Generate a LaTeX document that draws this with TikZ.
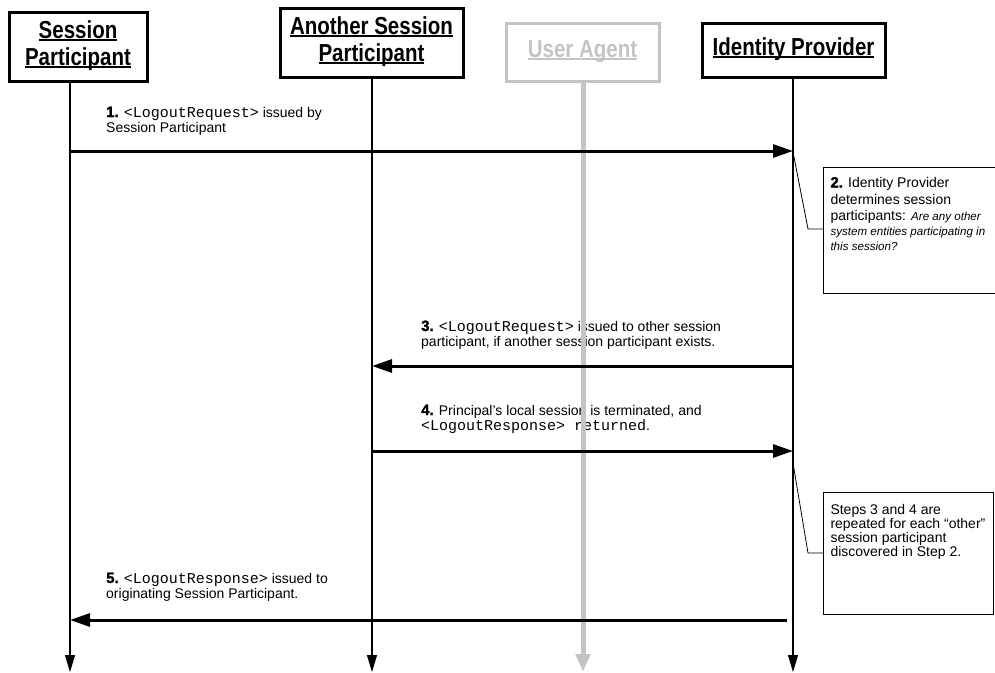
\documentclass[tikz,border=0pt]{standalone}
\usepackage{fontspec}
\usepackage{graphicx}
\setmainfont{Liberation Sans}
\setmonofont{Liberation Mono}
\newfontfamily\heavyfont{Liberation Sans Bold}[FakeBold=1.6]
\usetikzlibrary{arrows.meta}
\definecolor{uagray}{HTML}{C4C4C4}
\newcommand\lblfont{\fontsize{14}{15.5}\selectfont}
\newcommand\cd[1]{{\ttfamily\fontsize{15}{15}\selectfont #1}}
\newcommand\sn[1]{{\heavyfont\fontsize{15}{15}\selectfont #1}}
\newcommand\hdul[1]{\setbox0\hbox{#1}\rlap{\rule[-2.2pt]{\wd0}{1.3pt}}\box0}
\newcommand\hdtext[1]{\scalebox{1}[1.2]{\fontsize{20.5}{22.5}\selectfont\bfseries\begin{tabular}{@{}c@{}}#1\end{tabular}}}
\newcommand\itl{\itshape\fontsize{11.6}{14}\selectfont}
\begin{document}
\begin{tikzpicture}[x=1pt,y=-1pt,
  hdr/.style={draw, line width=3pt, inner sep=0pt, align=center},
  life/.style={line width=1.2pt, -{Triangle[length=17pt,width=10pt]}},
  msg/.style={line width=3pt, -{Triangle[length=20pt,width=13pt]}},
  lbl/.style={anchor=base west, inner sep=0pt, font=\lblfont},
  notebox/.style={draw, line width=1pt, fill=white, anchor=north west, inner xsep=7pt, inner ysep=0pt},
  link/.style={line width=0.8pt}]
\useasboundingbox (0,0) rectangle (995,672);

% header boxes
\node[hdr, minimum width=138pt, minimum height=69pt] (sp) at (78,46.5) {\hdtext{\hdul{Session}\\\hdul{Participant}}};
\node[hdr, minimum width=183pt, minimum height=69pt] (asp) at (371.5,42.5) {\hdtext{\hdul{Another Session}\\\hdul{Participant}}};
\node[hdr, draw=uagray, text=uagray, minimum width=153pt, minimum height=58pt] (ua) at (582.5,52) {\hdtext{\hdul{User Agent}}};
\node[hdr, minimum width=183pt, minimum height=54pt] (idp) at (793.5,50) {\hdtext{\hdul{Identity Provider}}};

% lifeline ends
\coordinate (spE) at (70,672);
\coordinate (aspE) at (372,672);
\coordinate (uaE) at (583,672);
\coordinate (idpE) at (793,672);

% labels
\node[lbl] (l1) at (106,117) {\parbox[t]{400pt}{\raggedright\lblfont\sn{1.} \cd{<LogoutRequest>} issued by\\Session Participant}};
\node[lbl] (l3) at (421,331) {\parbox[t]{400pt}{\raggedright\lblfont\sn{3.} \cd{<LogoutRequest>} issued to other session\\participant, if another session participant exists.}};
\node[lbl] (l4) at (421,415) {\parbox[t]{400pt}{\raggedright\lblfont\sn{4.} Principal's local session is terminated, and\\\cd{<LogoutResponse> returned}.}};
\node[lbl] (l5) at (106,583) {\parbox[t]{400pt}{\raggedright\lblfont\sn{5.} \cd{<LogoutResponse>} issued to\\originating Session Participant.}};

% lifelines
\draw[life] (sp.south -| spE) -- (spE);
\draw[life] (asp.south -| aspE) -- (aspE);
\draw[line width=5pt, draw=uagray, -{Triangle[length=18pt,width=14pt]}] (ua.south -| uaE) -- (uaE);
\draw[life] (idp.south -| idpE) -- (idpE);

% messages
\coordinate (m1s) at (70,151); \coordinate (m1e) at (793,151);
\coordinate (m3s) at (793,366); \coordinate (m3e) at (372,366);
\coordinate (m4s) at (372,451); \coordinate (m4e) at (793,451);
\coordinate (m5s) at (787,620); \coordinate (m5e) at (70,620);
\draw[msg] (m1s) -- (m1e);
\draw[msg] (m3s) -- (m3e);
\draw[msg] (m4s) -- (m4e);
\draw[msg] (m5s) -- (m5e);

% notes
\node[notebox] (n1) at (823,167) {\parbox[t][126pt][t]{158pt}{\fontsize{14}{15}\selectfont
\mbox{\rule{0pt}{20pt}\sn{2.} Identity Provider}\\[1.5pt]
\mbox{determines session}\\[1.5pt]
\mbox{participants: {\itl Are any other}}\\
\mbox{\itl system entities participating in}\\
\mbox{\itl this session?}}};
\node[notebox] (n2) at (823,492) {\parbox[t][122pt][t]{156pt}{\fontsize{14}{14}\selectfont
\mbox{\rule{0pt}{22pt}Steps 3 and 4 are}\\
\mbox{repeated for each “other”}\\
\mbox{session participant}\\
\mbox{discovered in Step 2.}}};

\coordinate (n1a) at (793,152);
\coordinate (n1b) at (808,229);
\coordinate (n2a) at (793,463);
\coordinate (n2b) at (808,553);
\draw[link] (n1a) -- (n1b) -- (n1.west |- n1b);
\draw[link] (n2a) -- (n2b) -- (n2.west |- n2b);
\end{tikzpicture}
\end{document}
